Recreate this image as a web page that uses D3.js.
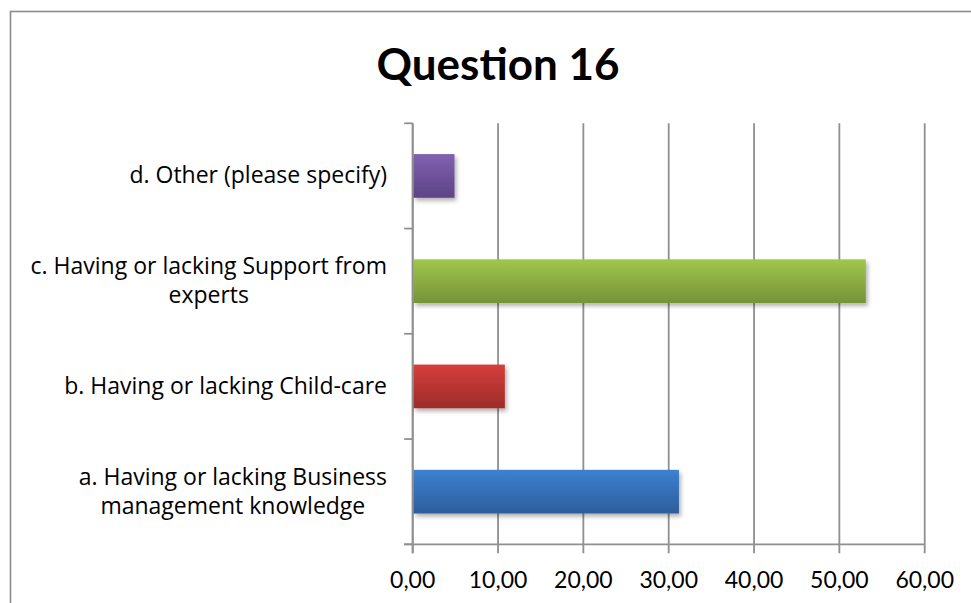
<!DOCTYPE html>
<html>
<head>
<meta charset="utf-8">
<script src="https://cdn.jsdelivr.net/npm/d3@7"></script>
<style>
  html, body { margin: 0; padding: 0; background: #fff; }
  svg { display: block; }
  text { font-family: Lato, "Open Sans", sans-serif; fill: #000; }
  .cat-label { font-family: "Open Sans", Lato, sans-serif; }
</style>
</head>
<body>
<svg id="chart" width="971" height="603"></svg>
<script>
// Survey answers, bottom category first
const categories = ["a", "b", "c", "d"];
const labelLines = [
  ["a. Having or lacking Business", "management knowledge"],
  ["b. Having or lacking Child-care"],
  ["c. Having or lacking Support from", "experts"],
  ["d. Other (please specify)"]
];
const values = [31.2, 10.8, 53.1, 4.9];
const xTicks = [0, 10, 20, 30, 40, 50, 60];
const xTickLabels = ["0,00", "10,00", "20,00", "30,00", "40,00", "50,00", "60,00"];
const barColors = [
  ["#3d80d2", "#2d5e9c"],
  ["#d63e3b", "#9c2d2a"],
  ["#a0c74c", "#759339"],
  ["#8161b0", "#5d4386"]
];

const svg = d3.select("#chart");
const plotLeft = 412.7, plotRight = 924.7, plotTop = 123.3, plotBottom = 544.3;

const x = d3.scaleLinear().domain([0, 60]).range([plotLeft, plotRight]);
const y = d3.scaleBand()
  .domain(categories.slice().reverse())
  .range([plotTop, plotBottom])
  .paddingInner(0.585)
  .paddingOuter(0.2925);
const edge = d3.scaleLinear().domain([0, categories.length]).range([plotBottom, plotTop]);

// Outer chart frame
svg.append("rect")
  .attr("x", 10.5).attr("y", 11.5)
  .attr("width", 1000).attr("height", 700)
  .attr("fill", "none").attr("stroke", "#8c8c8c").attr("stroke-width", 1.6);

// Title
svg.append("text")
  .attr("x", 498).attr("y", 80)
  .attr("text-anchor", "middle")
  .attr("font-size", 44).attr("font-weight", "bold")
  .text("Question 16");

const defs = svg.append("defs");
barColors.forEach((c, i) => {
  const g = defs.append("linearGradient")
    .attr("id", "grad" + i).attr("x1", 0).attr("y1", 0).attr("x2", 0).attr("y2", 1);
  g.append("stop").attr("offset", "0%").attr("stop-color", c[0]);
  g.append("stop").attr("offset", "100%").attr("stop-color", c[1]);
});
const shadow = defs.append("filter").attr("id", "shadow")
  .attr("x", "-10%").attr("y", "-20%").attr("width", "130%").attr("height", "160%");
shadow.append("feDropShadow")
  .attr("dx", 2).attr("dy", 3).attr("stdDeviation", 2.2)
  .attr("flood-color", "#000").attr("flood-opacity", 0.3);

const gridColor = "#8f8f8f";

// Vertical gridlines with their tick extensions below the axis
svg.append("g").selectAll("line")
  .data(xTicks)
  .join("line")
  .attr("x1", d => x(d)).attr("x2", d => x(d))
  .attr("y1", plotTop).attr("y2", plotBottom + 9)
  .attr("stroke", gridColor).attr("stroke-width", 1.8);

// Category separator ticks on the left axis
svg.append("g").selectAll("line")
  .data(d3.range(categories.length + 1))
  .join("line")
  .attr("x1", plotLeft - 8.5).attr("x2", plotLeft)
  .attr("y1", d => edge(d)).attr("y2", d => edge(d))
  .attr("stroke", gridColor).attr("stroke-width", 1.8);

// Axis lines
svg.append("line")
  .attr("x1", plotLeft - 8.5).attr("x2", plotRight)
  .attr("y1", plotBottom).attr("y2", plotBottom)
  .attr("stroke", gridColor).attr("stroke-width", 1.8);
svg.append("line")
  .attr("x1", plotLeft).attr("x2", plotLeft)
  .attr("y1", plotTop).attr("y2", plotBottom + 9)
  .attr("stroke", gridColor).attr("stroke-width", 1.8);

// Bars
svg.append("g").selectAll("rect")
  .data(values)
  .join("rect")
  .attr("x", x(0) + 0.9)
  .attr("y", (d, i) => y(categories[i]))
  .attr("width", d => x(d) - x(0) - 0.9)
  .attr("height", y.bandwidth())
  .attr("fill", (d, i) => `url(#grad${i})`)
  .attr("filter", "url(#shadow)");

// X tick labels
svg.append("g").selectAll("text")
  .data(xTicks)
  .join("text")
  .attr("x", d => x(d)).attr("y", 587.5)
  .attr("text-anchor", "middle")
  .attr("font-size", 23)
  .text((d, i) => xTickLabels[i]);

// Category labels: lines centred on each other, block right-aligned to the axis
const labelRight = 387;
const lineH = 29;
const labelG = svg.append("g");
labelLines.forEach((lines, i) => {
  const cy = y(categories[i]) + y.bandwidth() / 2;
  const t = labelG.append("text").attr("class", "cat-label").attr("font-size", 23);
  const spans = lines.map((s, j) =>
    t.append("tspan").attr("y", cy + (j - (lines.length - 1) / 2) * lineH + 7.5).text(s));
  const widths = spans.map(s => s.node().getComputedTextLength());
  const maxW = d3.max(widths);
  const centre = labelRight - maxW / 2;
  spans.forEach(s => s.attr("x", centre).attr("text-anchor", "middle"));
});
</script>
</body>
</html>
